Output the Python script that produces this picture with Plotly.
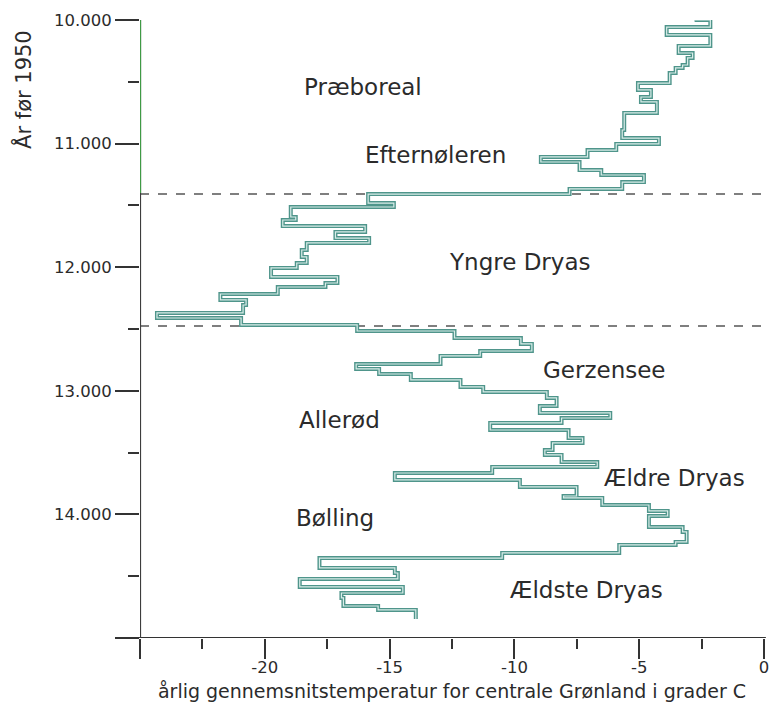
import plotly.graph_objects as go

# Step record: temperature (deg C) and the year (before 1950) each step begins
temps = [-2.78, -2.15, -3.90, -2.15, -3.42, -2.86, -3.06, -3.26, -3.54, -3.78,
         -5.05, -4.53, -4.93, -4.29, -5.60, -5.68, -4.21, -5.92, -7.07, -8.94,
         -7.39, -6.52, -4.81, -5.68, -7.79, -15.86, -14.83, -18.96, -18.76, -19.28,
         -15.98, -17.17, -15.82, -18.32, -18.52, -18.32, -18.72, -19.75, -17.09, -17.57,
         -19.48, -21.78, -20.75, -20.87, -24.32, -20.95, -16.30, -12.40, -9.74, -9.30,
         -11.37, -12.96, -16.34, -15.42, -14.15, -12.16, -11.25, -8.70, -8.31, -8.98,
         -6.16, -8.11, -10.97, -7.83, -7.27, -8.47, -8.78, -8.11, -6.68, -10.89,
         -14.79, -9.78, -7.51, -8.03, -6.48, -4.61, -3.86, -4.61, -3.26, -3.10,
         -3.54, -5.80, -10.49, -17.81, -14.79, -14.67, -18.60, -14.47, -16.93, -16.85,
         -15.46, -13.95, -13.95]
years = [10000, 10000, 10057, 10121, 10210, 10267, 10307, 10364, 10388, 10429,
         10510, 10566, 10623, 10663, 10752, 10890, 10955, 11003, 11052, 11108,
         11149, 11214, 11254, 11311, 11367, 11408, 11481, 11513, 11594, 11618,
         11667, 11715, 11764, 11804, 11861, 11917, 11966, 12006, 12079, 12128,
         12160, 12217, 12265, 12306, 12370, 12411, 12467, 12516, 12573, 12621,
         12678, 12718, 12783, 12823, 12864, 12912, 12969, 13009, 13058, 13123,
         13179, 13220, 13260, 13317, 13382, 13422, 13479, 13519, 13576, 13616,
         13665, 13721, 13778, 13851, 13867, 13924, 13972, 14013, 14102, 14142,
         14223, 14247, 14312, 14353, 14433, 14474, 14522, 14587, 14636, 14676,
         14741, 14773, 14846]

boundary_years = [11408, 12476]

period_names = ["Præboreal", "Efternøleren", "Yngre Dryas", "Gerzensee",
                "Allerød", "Ældre Dryas", "Bølling", "Ældste Dryas"]
period_x = [-16.06, -13.16, -9.78, -6.40, -17.01, -3.60, -17.17, -7.11]
period_y = [10542, 11092, 11958, 12832, 13236, 13705, 14029, 14611]

x_tickvals = [-25, -20, -15, -10, -5, 0]
x_ticktext = ["", "-20", "-15", "-10", "-5", "0"]
x_minor = [-22.5, -17.5, -12.5, -7.5, -2.5]
y_tickvals = [10000, 11000, 12000, 13000, 14000, 15000]
y_ticktext = ["10.000", "11.000", "12.000", "13.000", "14.000", ""]
y_minor = [10500, 11500, 12500, 13500, 14500]

FONT = "DejaVu Sans"
TXT = "#2b2b2b"
AX = "#333333"

fig = go.Figure()
fig.add_trace(go.Scatter(x=temps, y=years, mode="lines", line_shape="vh",
                         line=dict(color="#4f958b", width=4.0), hoverinfo="skip",
                         showlegend=False))
fig.add_trace(go.Scatter(x=temps, y=years, mode="lines", line_shape="vh",
                         line=dict(color="#d9ede9", width=1.2), hoverinfo="skip",
                         showlegend=False))

shapes = []
for yb in boundary_years:
    shapes.append(dict(type="line", xref="x", yref="y", x0=-25, x1=0, y0=yb, y1=yb,
                       line=dict(color="#555555", width=1.6, dash="dash"), layer="below"))
# x-axis line extended to the left (as in the reference)
shapes.append(dict(type="line", xref="paper", yref="y", x0=-0.037, x1=1.003,
                   y0=15000, y1=15000, line=dict(color=AX, width=2.2)))
# y-axis line: gray, green on the upper part
shapes.append(dict(type="line", xref="x", yref="y", x0=-25, x1=-25, y0=10000, y1=15000,
                   line=dict(color="#3d3d3d", width=2.2)))
shapes.append(dict(type="line", xref="x", yref="y", x0=-25, x1=-25, y0=10000, y1=11400,
                   line=dict(color="#3f9a45", width=2.2)))

annotations = []
for name, ax_, ay_ in zip(period_names, period_x, period_y):
    annotations.append(dict(x=ax_, y=ay_, xref="x", yref="y", text=name, showarrow=False,
                            font=dict(family=FONT, size=23, color=TXT),
                            xanchor="center", yanchor="middle"))
# y-axis title placed at the top of the axis, as in the reference
annotations.append(dict(x=(22 - 140) / (777 - 140 - 8), y=1 - (89 - 20) / (709 - 20 - 71),
                        xref="paper", yref="paper",
                        text="År før 1950", showarrow=False, textangle=-90,
                        font=dict(family=FONT, size=21, color=TXT),
                        xanchor="center", yanchor="middle"))

fig.update_layout(
    width=777, height=709,
    margin=dict(l=140, r=8, t=20, b=71),
    paper_bgcolor="white", plot_bgcolor="white",
    shapes=shapes, annotations=annotations,
    xaxis=dict(range=[-25, 0], tickvals=x_tickvals, ticktext=x_ticktext,
               ticks="outside", ticklen=20, tickwidth=1.6, tickcolor=AX,
               ticklabelstandoff=-6,
               minor=dict(tickvals=x_minor, ticks="outside", ticklen=10,
                          tickwidth=1.6, tickcolor=AX),
               showgrid=False, zeroline=False, showline=False,
               tickfont=dict(family=FONT, size=16.5, color=TXT),
               title=dict(text="årlig gennemsnitstemperatur for centrale Grønland i grader C",
                          font=dict(family=FONT, size=19, color=TXT), standoff=8)),
    yaxis=dict(range=[15000, 10000], tickvals=y_tickvals, ticktext=y_ticktext,
               ticks="outside", ticklen=24, tickwidth=1.6, tickcolor=AX,
               minor=dict(tickvals=y_minor, ticks="outside", ticklen=11,
                          tickwidth=1.6, tickcolor=AX),
               showgrid=False, zeroline=False, showline=False,
               tickfont=dict(family=FONT, size=16.5, color=TXT)),
)

fig.write_html("out.html")
